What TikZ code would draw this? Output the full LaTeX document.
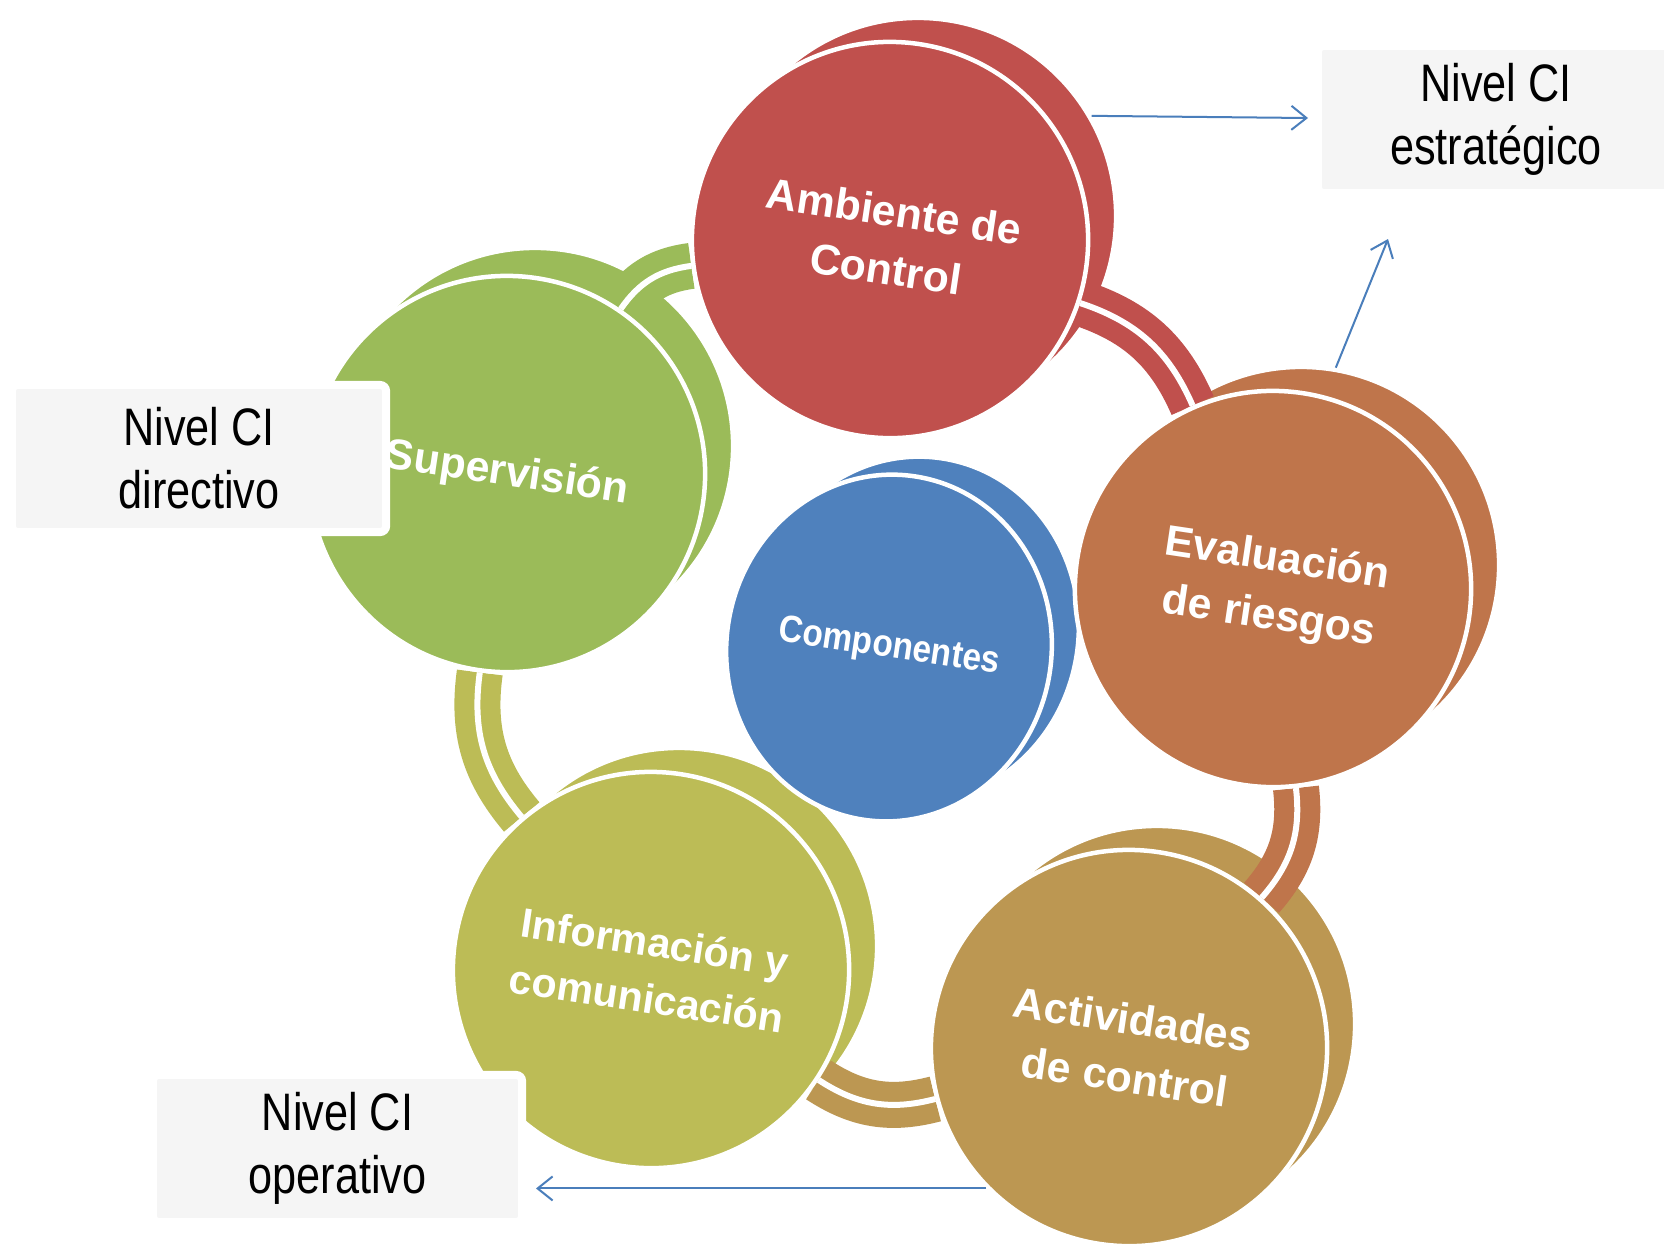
\documentclass[tikz,border=0pt]{standalone}
\usepackage{fontspec}
\setmainfont{Liberation Sans}
\newfontfamily\narrowfont[FakeStretch=0.82]{Liberation Sans}
\newfontfamily\compfont[FakeStretch=0.88]{Liberation Sans}
\usepackage{tikz}
\usetikzlibrary{positioning, arrows.meta, shapes, backgrounds}
\definecolor{Rojo}{RGB}{192,80,77}
\definecolor{Naranja}{RGB}{191,117,75}
\definecolor{Dorado}{RGB}{188,151,82}
\definecolor{Oliva}{RGB}{188,188,86}
\definecolor{Verde}{RGB}{155,187,89}
\definecolor{Azul}{RGB}{79,129,189}
\definecolor{Flecha}{RGB}{74,126,187}
\definecolor{CajaGris}{RGB}{245,245,245}

\begin{document}
\begin{tikzpicture}[x=0.01cm, y=-0.01cm]
  \tikzstyle{disk} = [circle, draw=white, line width=0.045cm, minimum size=3.96cm, inner sep=0pt,
    rotate=-8.5, text=white, align=center, font=\bfseries\fontsize{12.2}{16.5}\selectfont]
  \tikzstyle{backdisk} = [circle, draw=white, line width=0.045cm, minimum size=3.96cm, inner sep=0pt]
  \tikzstyle{levelbox} = [rectangle, fill=CajaGris, draw=white, line width=0.08cm, rounded corners=0.06cm,
    minimum height=1.47cm, align=center, font=\narrowfont\fontsize{15}{17.9}\selectfont]
  \tikzstyle{band} = [line width=0.2cm, double=white, double distance=0.06cm, bend left=24]
  \tikzstyle{flecha} = [draw=Flecha, line width=0.02cm, -{Straight Barb[length=0.15cm, width=0.24cm]}]

  \useasboundingbox (0,0) rectangle (1664,1247);

  % Discos de delante
  \node[disk, fill=Rojo] (amb) at (890,240) {Ambiente de\\Control};
  \node[disk, fill=Naranja] (eva) at (1273,589) {Evaluación\\de riesgos};
  \node[disk, fill=Dorado] (act) at (1129,1048) {Actividades\\de control};
  \node[disk, fill=Oliva, font=\bfseries\fontsize{11.7}{16}\selectfont] (inf) at (651,970) {Información y\\comunicación};
  \node[disk, fill=Verde] (sup) at (507,474) {Supervisión};
  \node[disk, ellipse, minimum width=3.25cm, minimum height=3.47cm, fill=Azul,
    font=\compfont\bfseries\fontsize{10.8}{14}\selectfont] (comp) at (889,648) {Componentes};

  \begin{pgfonlayer}{background}
    \fill[white] (0,0) rectangle (1664,1247);
    % Discos de atras
    \foreach \name/\x/\y/\col in {amb/890/240/Rojo, eva/1273/589/Naranja, act/1129/1048/Dorado,
        inf/651/970/Oliva, sup/507/470/Verde}
      \node[backdisk, fill=\col] (back-\name) at (\x+28,\y-24) {};
    \node[backdisk, ellipse, rotate=-8.5, minimum width=3.25cm, minimum height=3.47cm, fill=Azul] (back-comp) at (916,630) {};
    % Bandas del ciclo
    \draw[band, draw=Verde] (sup) to (amb);
    \draw[band, draw=Rojo] (amb) to (eva);
    \draw[band, draw=Naranja] (eva) to (act);
    \draw[band, draw=Dorado] (act) to (inf);
    \draw[band, draw=Oliva] (inf) to (sup);
  \end{pgfonlayer}

  % Niveles
  \node[levelbox, minimum width=3.56cm] (estr) at (1496,119.5) {Nivel CI\\estratégico};
  \node[levelbox, minimum width=3.74cm] (dir) at (199,458.5) {Nivel CI\\directivo};
  \node[levelbox, minimum width=3.69cm] (oper) at (337.5,1148.5) {Nivel CI\\operativo};

  % Flechas
  \coordinate (tipEstrA) at (1308,118);
  \coordinate (tipEstrB) at (1388,239);
  \coordinate (tipOper) at (536,1186);
  \draw[flecha] (back-amb.30) -- (tipEstrA);
  \draw[flecha] (back-eva.80) -- (tipEstrB);
  \draw[flecha] (act.233) -- (act.233 -| tipOper);
\end{tikzpicture}
\end{document}
